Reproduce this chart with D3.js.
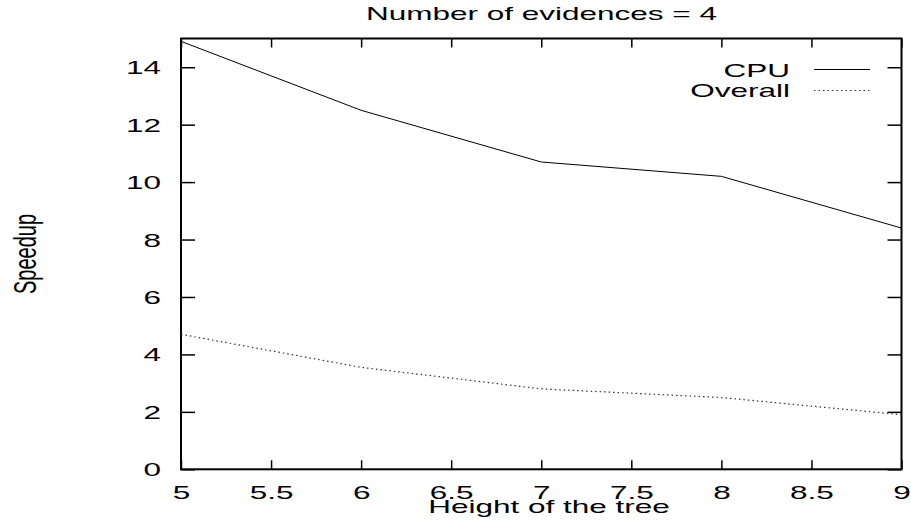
<!DOCTYPE html>
<html>
<head>
<meta charset="utf-8">
<script src="https://cdn.jsdelivr.net/npm/d3@7"></script>
<style>
  body { margin: 0; background: #fff; }
  svg text { font-family: "Liberation Sans", Arial, sans-serif; fill: #000; }
</style>
</head>
<body>
<svg id="chart"></svg>
<script>
// Données
const heights = [5, 6, 7, 8, 9];
const cpuSpeedup = [14.9, 12.5, 10.7, 10.2, 8.4];
const overallSpeedup = [4.7, 3.55, 2.8, 2.5, 1.9];
const xTicks = [5, 5.5, 6, 6.5, 7, 7.5, 8, 8.5, 9];
const yTicks = [0, 2, 4, 6, 8, 10, 12, 14];

const width = 911, height = 527;
const fontSize = 18;
const sx = 1.75; // texte étiré horizontalement comme dans l'original

const svg = d3.select("#chart")
    .attr("width", width)
    .attr("height", height);

const x = d3.scaleLinear().domain([5, 9]).range([181, 901.5]);
const y = d3.scaleLinear().domain([0, 15]).range([469.3, 38.5]);

// petite fonction pour placer un texte étiré
function label(txt, px, py, anchor) {
    return svg.append("text")
        .attr("transform", `translate(${px},${py}) scale(${sx},1)`)
        .attr("text-anchor", anchor)
        .attr("font-size", fontSize)
        .text(txt);
}

// Axes (graduations vers l'intérieur)
const left = svg.append("g")
    .attr("transform", `translate(${x.range()[0]},0)`)
    .call(d3.axisLeft(y).tickValues(yTicks).tickSizeInner(-14).tickSizeOuter(0).tickFormat(d3.format("d")));
left.selectAll("text")
    .attr("x", null).attr("dy", null)
    .attr("transform", `translate(-20,0) scale(${sx},1)`)
    .attr("dy", "0.36em");

svg.append("g")
    .attr("transform", `translate(${x.range()[1]},0)`)
    .call(d3.axisRight(y).tickValues(yTicks).tickSizeInner(-14).tickSizeOuter(0).tickFormat(""));

const bottom = svg.append("g")
    .attr("transform", `translate(0,${y.range()[0]})`)
    .call(d3.axisBottom(x).tickValues(xTicks).tickSizeInner(-9).tickSizeOuter(0).tickFormat(d3.format("")));
bottom.selectAll("text")
    .attr("y", null).attr("dy", null)
    .attr("transform", `translate(0,29.5) scale(${sx},1)`);

svg.append("g")
    .attr("transform", `translate(0,${y.range()[1]})`)
    .call(d3.axisTop(x).tickValues(xTicks).tickSizeInner(-9).tickSizeOuter(0).tickFormat(""));

svg.selectAll(".domain").remove();
svg.selectAll(".tick line").attr("stroke", "#000").attr("stroke-width", 1.5);
svg.selectAll(".tick text").attr("font-size", fontSize).attr("font-family", null);

// Cadre
svg.append("rect")
    .attr("x", x.range()[0])
    .attr("y", y.range()[1])
    .attr("width", x.range()[1] - x.range()[0])
    .attr("height", y.range()[0] - y.range()[1])
    .attr("fill", "none")
    .attr("stroke", "#000")
    .attr("stroke-width", 2);

// Courbes
const line = d3.line()
    .x((d, i) => x(heights[i]))
    .y(d => y(d));

svg.append("path")
    .datum(cpuSpeedup)
    .attr("d", line)
    .attr("fill", "none")
    .attr("stroke", "#000")
    .attr("stroke-width", 1);

svg.append("path")
    .datum(overallSpeedup)
    .attr("d", line)
    .attr("fill", "none")
    .attr("stroke", "#333")
    .attr("stroke-width", 1.2)
    .attr("stroke-dasharray", "1.5,3");

// Légende
label("CPU", 790, 77, "end");
svg.append("line")
    .attr("x1", 814).attr("x2", 870)
    .attr("y1", 69.5).attr("y2", 69.5)
    .attr("stroke", "#000").attr("stroke-width", 1);
label("Overall", 790, 96.7, "end");
svg.append("line")
    .attr("x1", 814).attr("x2", 870)
    .attr("y1", 90.5).attr("y2", 90.5)
    .attr("stroke", "#333").attr("stroke-width", 1.2)
    .attr("stroke-dasharray", "1.5,3");

// Titres
label("Number of evidences = 4", 541.5, 19.5, "middle");
label("Height of the tree", 549, 512.5, "middle");

svg.append("text")
    .attr("transform", `translate(36,254) scale(1.6,1) rotate(-90)`)
    .attr("text-anchor", "middle")
    .attr("font-size", 20)
    .text("Speedup");
</script>
</body>
</html>
